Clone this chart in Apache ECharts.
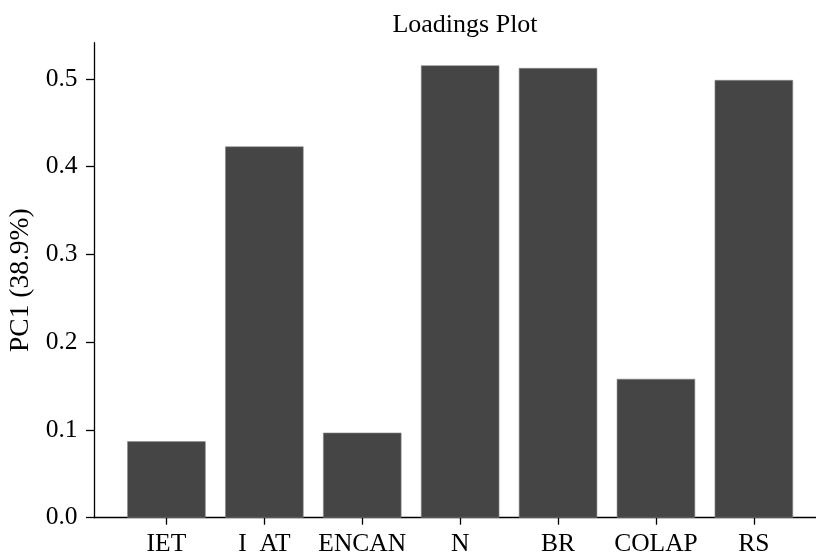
<!DOCTYPE html>
<html>
<head>
<meta charset="utf-8">
<script src="https://cdn.jsdelivr.net/npm/echarts@6/dist/echarts.min.js"></script>
<style>html,body{margin:0;padding:0;background:#fff}#c{width:816px;height:554px}</style>
</head>
<body>
<div id="c"></div>
<script>
var categories = ['IET', 'I  AT', 'ENCAN', 'N', 'BR', 'COLAP', 'RS'];
var loadings = [0.0871, 0.4230, 0.0969, 0.5154, 0.5124, 0.1582, 0.4987];
var yTicks = [0.0, 0.1, 0.2, 0.3, 0.4, 0.5];
var title = 'Loadings Plot';
var yName = 'PC1 (38.9%)';

var FONT = 'Liberation Serif';
var chart = echarts.init(document.getElementById('c'), null, {renderer: 'canvas'});
var xIdx = categories.map(function (_, i) { return i; });
chart.setOption({
  animation: false,
  backgroundColor: '#fff',
  title: {
    text: title, left: 460, top: 7, textAlign: 'center',
    textStyle: {fontFamily: FONT, fontSize: 26, fontWeight: 'normal', color: '#000'}
  },
  grid: {left: 94, top: 42.7, width: 732.3, height: 475, containLabel: false, outerBoundsMode: 'none'},
  xAxis: {
    type: 'value', min: -0.74, max: 6.74,
    splitLine: {show: false},
    axisLine: {show: true, onZero: false, lineStyle: {color: '#000', width: 1.3}},
    axisTick: {show: true, customValues: xIdx, length: 7, lineStyle: {color: '#000', width: 1.3}},
    axisLabel: {
      customValues: xIdx, margin: 13.5,
      fontFamily: FONT, fontSize: 25.5, color: '#000',
      formatter: function (v) { return categories[Math.round(v)]; }
    }
  },
  yAxis: {
    type: 'value', min: 0, max: 0.5412,
    name: yName, nameLocation: 'middle', nameRotate: 90, nameGap: 58,
    nameTextStyle: {fontFamily: FONT, fontSize: 27.5, color: '#000'},
    splitLine: {show: false},
    axisLine: {show: true, onZero: false, lineStyle: {color: '#000', width: 1.3}},
    axisTick: {show: true, customValues: yTicks, length: 8, lineStyle: {color: '#000', width: 1.3}},
    axisLabel: {
      customValues: yTicks, margin: 16.5,
      fontFamily: FONT, fontSize: 25.5, color: '#000',
      formatter: function (v) { return v.toFixed(1); }
    }
  },
  series: [{
    type: 'bar',
    barWidth: 78.4,
    itemStyle: {color: '#454545', borderColor: '#8a8a8a', borderWidth: 0.6},
    data: loadings.map(function (v, i) { return [i, v]; })
  }]
});
</script>
</body>
</html>
